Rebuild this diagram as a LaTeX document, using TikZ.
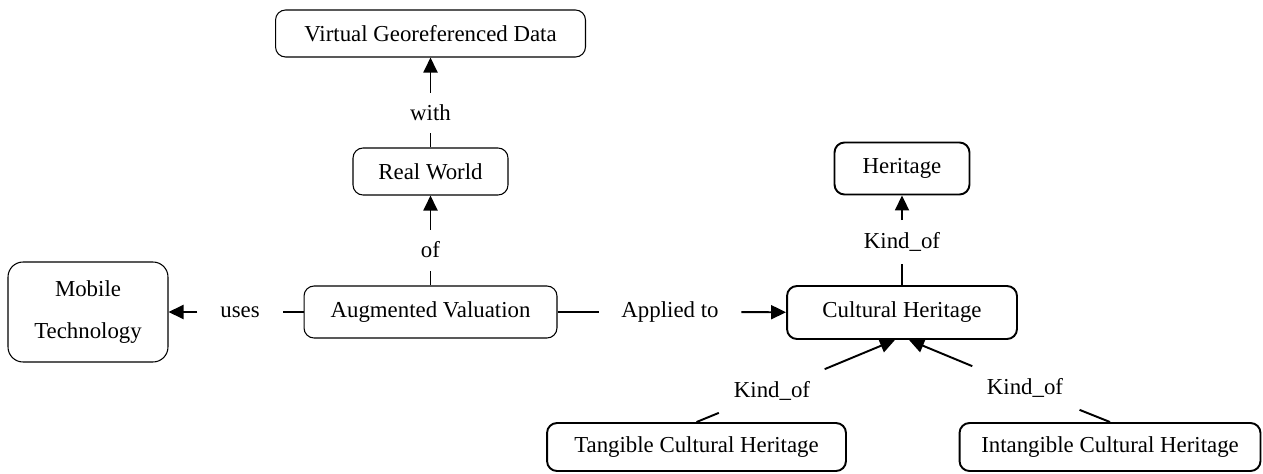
\documentclass[tikz,border=0pt]{standalone}
\usepackage{fontspec}
\setmainfont{Liberation Serif}
\usepackage{tikz}
\usetikzlibrary{arrows.meta}

\begin{document}
\begin{tikzpicture}[
    x=0.02cm, y=-0.02cm,
    box/.style={draw, line width=0.6pt, rounded corners=0.2cm, fill=white, align=center, inner sep=0pt, font=\fontsize{13}{16}\selectfont},
    boldbox/.style={box, line width=1.1pt},
    rel/.style={font=\fontsize{13}{16}\selectfont, inner xsep=0.45cm, inner ysep=0.24cm},
    link/.style={line width=1.1pt},
    arrow/.style={link, -{Triangle[length=0.3cm, width=0.28cm]}},
]
    \useasboundingbox (0,0) rectangle (1263,473);

    % concepts
    \node[box, minimum width=6.2cm, minimum height=0.94cm] (virt) at (430.5,33.5) {Virtual Georeferenced Data};
    \node[box, minimum width=3.1cm, minimum height=0.94cm] (world) at (430.5,171.5) {Real World};
    \node[box, minimum width=5.06cm, minimum height=1.04cm] (aug) at (430.5,312) {Augmented Valuation};
    \node[box, rounded corners=0.3cm, minimum width=3.2cm, minimum height=2cm, font=\fontsize{13}{24}\selectfont] (mobile) at (88,312) {Mobile\\Technology};
    \node[boldbox, minimum width=4.6cm, minimum height=1.06cm] (cult) at (902,312.5) {Cultural Heritage};
    \node[boldbox, minimum width=2.7cm, minimum height=1.04cm] (herit) at (902,168.5) {Heritage};
    \node[boldbox, minimum width=5.98cm, minimum height=0.96cm] (tang) at (696.5,447) {Tangible Cultural Heritage};
    \node[boldbox, minimum width=6.02cm, minimum height=0.96cm] (intang) at (1110,447) {Intangible Cultural Heritage};

    % relation labels
    \node[rel] (uses) at (240,312) {uses};
    \node[rel] (applied) at (670,312) {Applied to};
    \node[rel] (of) at (430.5,250) {of};
    \node[rel] (with) at (430.5,113) {with};
    \node[rel] (kind0) at (902,242) {Kind\_of};
    \node[rel] (kind1) at (772,391) {Kind\_of};
    \node[rel] (kind2) at (1025,388) {Kind\_of};

    % links
    \draw[link] (aug) -- (uses);
    \draw[arrow] (uses) -- (mobile);
    \draw[link] (aug) -- (applied);
    \draw[arrow] (applied) -- (cult);
    \draw[link] (aug) -- (of);
    \draw[arrow] (of) -- (world);
    \draw[link] (world) -- (with);
    \draw[arrow] (with) -- (virt);
    \draw[link] (cult) -- (kind0);
    \draw[arrow] (kind0) -- (herit);
    \draw[link] (tang.north) -- (kind1);
    \draw[arrow] (kind1) -- ([xshift=-4]cult.south);
    \draw[link] (intang.north) -- (kind2);
    \draw[arrow] (kind2) -- ([xshift=4]cult.south);
\end{tikzpicture}
\end{document}
